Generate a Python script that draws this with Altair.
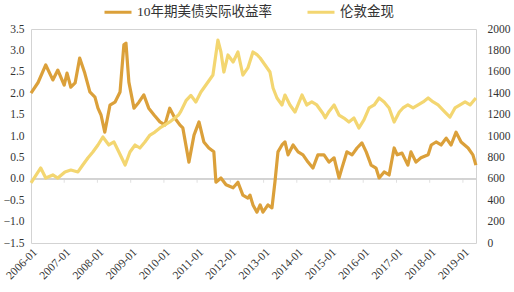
import altair as alt
import pandas as pd

SERIES = ["10年期美债实际收益率", "伦敦金现"]
COLORS = ["#DBA03A", "#F3D671"]

yield_dates = [
    "2006-01-01", "2006-03-20", "2006-06-12", "2006-08-29", "2006-10-23", "2007-01-01",
    "2007-02-01", "2007-03-15", "2007-05-01", "2007-06-20", "2007-08-15", "2007-10-10",
    "2007-12-05", "2008-01-07", "2008-02-10", "2008-03-22", "2008-05-18", "2008-07-12",
    "2008-09-06", "2008-10-18", "2008-11-10", "2008-12-12", "2009-02-06", "2009-04-01",
    "2009-05-25", "2009-07-18", "2009-09-15", "2009-11-18", "2010-01-12", "2010-03-06",
    "2010-05-01", "2010-06-25", "2010-07-28", "2010-10-03", "2010-11-28", "2011-01-22",
    "2011-03-16", "2011-05-10", "2011-07-04", "2011-07-27", "2011-09-20", "2011-11-15",
    "2012-02-01", "2012-03-25", "2012-05-18", "2012-07-12", "2012-08-04", "2012-09-06",
    "2012-10-20", "2012-11-24", "2012-12-25", "2013-02-18", "2013-04-03", "2013-05-06",
    "2013-06-08", "2013-07-22", "2013-08-24", "2013-09-27", "2013-11-21", "2014-01-15",
    "2014-03-10", "2014-05-04", "2014-06-27", "2014-08-21", "2014-10-27", "2014-12-21",
    "2015-02-15", "2015-04-10", "2015-05-12", "2015-07-06", "2015-09-01", "2015-10-25",
    "2015-12-18", "2016-02-03", "2016-03-28", "2016-05-21", "2016-06-24", "2016-08-18",
    "2016-10-12", "2016-12-06", "2017-01-09", "2017-03-03", "2017-05-06", "2017-06-09",
    "2017-08-03", "2017-09-27", "2017-12-15", "2018-01-18", "2018-03-12", "2018-05-06",
    "2018-07-01", "2018-08-24", "2018-10-18", "2018-12-12", "2019-02-27", "2019-04-21",
    "2019-05-24",
]
yield_vals = [
    2.00, 2.25, 2.66, 2.31, 2.54, 2.19,
    2.47, 2.14, 2.24, 2.82, 2.47, 2.03,
    1.91, 1.65, 1.49, 1.09, 1.72, 1.79,
    2.03, 3.13, 3.17, 2.26, 1.65, 1.79,
    1.96, 1.65, 1.49, 1.33, 1.26, 1.65,
    1.42, 1.26, 1.19, 0.39, 1.02, 1.33,
    0.86, 0.72, 0.63, -0.08, 0.02, -0.14,
    -0.21, -0.08, -0.38, -0.45, -0.38, -0.61,
    -0.78, -0.61, -0.78, -0.61, -0.68, -0.07,
    0.63, 0.79, 0.86, 0.56, 0.79, 0.63,
    0.56, 0.39, 0.25, 0.56, 0.56, 0.39,
    0.49, 0.02, 0.25, 0.63, 0.56, 0.72,
    0.84, 0.63, 0.32, 0.25, 0.02, 0.16,
    0.09, 0.72, 0.56, 0.60, 0.32, 0.63,
    0.39, 0.49, 0.56, 0.79, 0.86, 0.79,
    0.95, 0.79, 1.09, 0.86, 0.72, 0.56,
    0.32,
]

gold_dates = [
    "2006-01-01", "2006-04-18", "2006-06-12", "2006-08-29", "2006-10-23", "2007-01-09",
    "2007-03-15", "2007-06-01", "2007-07-24", "2007-09-18", "2007-11-12", "2008-01-07",
    "2008-03-01", "2008-05-06", "2008-07-01", "2008-08-24", "2008-11-01", "2008-12-24",
    "2009-02-18", "2009-04-12", "2009-06-06", "2009-08-01", "2009-09-24", "2009-11-18",
    "2010-01-12", "2010-03-06", "2010-05-01", "2010-06-10", "2010-07-06", "2010-09-01",
    "2010-10-25", "2010-12-18", "2011-02-12", "2011-05-01", "2011-06-24", "2011-08-18",
    "2011-09-20", "2011-10-22", "2011-12-06", "2012-02-01", "2012-03-25", "2012-05-18",
    "2012-07-12", "2012-09-06", "2012-10-20", "2012-11-24", "2013-01-17", "2013-03-12",
    "2013-04-15", "2013-05-28", "2013-07-22", "2013-08-24", "2013-10-18", "2013-12-12",
    "2014-02-27", "2014-04-21", "2014-06-15", "2014-08-09", "2014-10-15", "2014-11-10",
    "2014-12-21", "2015-02-15", "2015-04-10", "2015-06-03", "2015-07-28", "2015-09-21",
    "2015-11-15", "2016-01-09", "2016-03-06", "2016-05-01", "2016-06-24", "2016-08-18",
    "2016-10-12", "2016-12-06", "2017-02-01", "2017-03-13", "2017-05-06", "2017-07-02",
    "2017-08-27", "2017-10-21", "2017-12-15", "2018-02-08", "2018-04-03", "2018-06-18",
    "2018-08-12", "2018-10-06", "2018-12-01", "2019-01-25", "2019-03-21", "2019-05-24",
]
gold_vals = [
    561, 701, 607, 636, 607, 664,
    682, 664, 729, 794, 850, 916,
    991, 916, 944, 850, 729, 850,
    916, 888, 944, 1009, 1037, 1075,
    1103, 1131, 1168, 1196, 1230, 1330,
    1380, 1318, 1411, 1505, 1570, 1897,
    1785, 1598, 1757, 1692, 1785, 1570,
    1636, 1785, 1760, 1729, 1664, 1598,
    1449, 1355, 1290, 1383, 1290, 1224,
    1383, 1290, 1318, 1290, 1210, 1170,
    1230, 1290, 1196, 1168, 1131, 1168,
    1075, 1150, 1262, 1290, 1355, 1318,
    1262, 1131, 1224, 1262, 1290, 1262,
    1290, 1318, 1355, 1318, 1290, 1224,
    1177, 1262, 1290, 1318, 1290, 1355,
]

tick_years = list(range(2006, 2020))
left_ticks = [-1.5, -1.0, -0.5, 0.0, 0.5, 1.0, 1.5, 2.0, 2.5, 3.0, 3.5]
right_ticks = [0, 200, 400, 600, 800, 1000, 1200, 1400, 1600, 1800, 2000]

df_y = pd.DataFrame({"date": yield_dates, "v": yield_vals, "s": SERIES[0]})
df_g = pd.DataFrame({"date": gold_dates, "g": gold_vals, "s": SERIES[1]})
df_t = pd.DataFrame({"date": [f"{y}-01-01" for y in tick_years]})

FONT = "Liberation Serif"
LEGEND_FONT = "Liberation Serif, Noto Sans CJK SC"
GRAY = "#d3d3d3"
TXT = "#333333"

xscale = alt.Scale(
    type="utc",
    domain=[alt.DateTime(year=2006, month=1, date=1, utc=True),
            alt.DateTime(year=2019, month=5, date=25, utc=True)],
)
xaxis = alt.Axis(
    values=[alt.DateTime(year=y, month=1, date=1, utc=True) for y in tick_years],
    format="%Y-%m", labelAngle=-45, title=None, domain=False, ticks=False,
    grid=False, labelPadding=3, labelFontSize=11.5, labelFont=FONT, labelColor=TXT,
    labelOverlap=False, labelBound=False, labelFlush=False,
)
yscale_l = alt.Scale(domain=[-1.5, 3.5], nice=False, zero=False)
yaxis_l = alt.Axis(
    values=left_ticks, format=".1f", title=None, domain=False, ticks=False,
    grid=False, labelPadding=7, orient="left", labelFontSize=11.5, labelFont=FONT,
    labelColor=TXT, labelOverlap=False, labelFlush=False,
)

color = alt.Color(
    "s:N",
    scale=alt.Scale(domain=SERIES, range=COLORS),
    legend=alt.Legend(
        orient="none", legendX=72, legendY=-32, direction="horizontal",
        symbolType="stroke", symbolSize=729, symbolStrokeWidth=3,
        labelFontSize=13.5, labelFont=LEGEND_FONT, labelColor=TXT, title=None,
        columnPadding=29, labelOffset=4,
    ),
)

line_y = alt.Chart(df_y).mark_line(strokeWidth=3.2, strokeJoin="round").encode(
    x=alt.X("date:T", scale=xscale, axis=xaxis),
    y=alt.Y("v:Q", scale=yscale_l, axis=yaxis_l),
    color=color,
)

zero_rule = alt.Chart(df_t).mark_rule(color=GRAY, strokeWidth=1).encode(
    y=alt.YDatum(0, scale=yscale_l, axis=yaxis_l)
)

ticks = alt.Chart(df_t).mark_tick(color=GRAY, orient="vertical", size=4, thickness=1, yOffset=2).encode(
    x=alt.X("date:T", scale=xscale, axis=xaxis),
    y=alt.YDatum(0, scale=yscale_l, axis=yaxis_l),
)

left = alt.layer(zero_rule, ticks, line_y)

line_g = alt.Chart(df_g).mark_line(strokeWidth=3.2, strokeJoin="round").encode(
    x=alt.X("date:T", scale=xscale, axis=xaxis),
    y=alt.Y("g:Q", scale=alt.Scale(domain=[0, 2000], nice=False), axis=alt.Axis(
        values=right_ticks, format="d", title=None, domain=False, ticks=False, grid=False,
        labelPadding=11, orient="right", labelFontSize=11.5, labelFont=FONT,
        labelColor=TXT, labelOverlap=False, labelFlush=False)),
    color=color,
)

chart = alt.layer(left, line_g).resolve_scale(y="independent").properties(
    width=445, height=214,
    autosize=alt.AutoSizeParams(type="none"),
    padding={"left": 31, "top": 29, "right": 38, "bottom": 49},
    background="white",
).configure_view(stroke=GRAY)

chart.save("out.html", embed_options={"renderer": "svg", "actions": False})
